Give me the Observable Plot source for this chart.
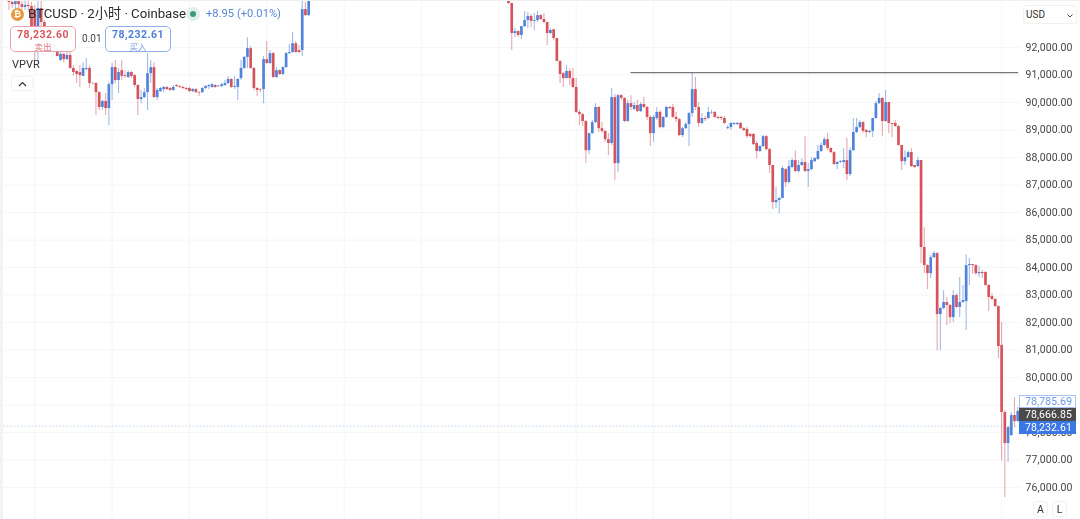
<!DOCTYPE html>
<html><head><meta charset="utf-8">
<script src="https://cdn.jsdelivr.net/npm/d3@7"></script>
<script src="https://cdn.jsdelivr.net/npm/@observablehq/plot@0.6"></script>
<style>
html,body{margin:0;padding:0;background:#fff;overflow:hidden}
#stage{position:relative;width:1080px;height:519px;font-family:Roboto,"Noto Sans CJK SC",sans-serif;color:#333;filter:blur(.35px)}
#chart svg{display:block}
#stage>div.o{position:absolute;white-space:nowrap}
.box{border-radius:5px;background:rgba(255,255,255,.95);text-align:center;box-sizing:border-box;font-family:Roboto,sans-serif;font-weight:700;font-size:10.5px;line-height:13px;padding-top:1px;letter-spacing:.45px}
.box span{display:block;font-family:"Noto Sans CJK SC",sans-serif;font-size:8.5px;line-height:11px;font-weight:400;opacity:.8;letter-spacing:0}
.tag{left:1019px;width:57px;height:13px;box-sizing:border-box;font-family:Roboto,sans-serif;font-size:10.5px;line-height:13px;text-align:right;padding-right:4px;letter-spacing:.1px}
.btn{border:1px solid #f1f1f1;border-radius:3px;text-align:center;box-sizing:border-box;background:#fff}
</style></head><body>
<div id="stage"><div id="chart"></div></div>
<script>
const pairName = "BTCUSD · 2小时 · Coinbase";
const changeText = "+8.95 (+0.01%)";
const sellPrice = "78,232.60", buyPrice = "78,232.61", spreadText = "0.01";
const lastPrices = ["78,785.69", "78,666.85", "78,232.61"];
const priceTicks = d3.range(76000, 93000, 1000);
const dayTicks = [10,34,58,82,106,130,154,178,202,226,250,274,310];
const barNumbers = d3.range(2, 96).concat(d3.range(157, 316));
const resistance = 91090, resistanceFrom = 195, resistanceTo = 315.3;
const lastBuyLevel = 78232.61;

const opens = [
93820,93640,93560,93670,93560,93460,93530,93490,93350,92620,
93420,92910,92250,91960,92110,91890,91530,91750,91560,91710,
91240,91130,91090,90950,91200,91240,90690,90690,90360,89820,
90040,89780,90650,91270,90800,91160,90980,90910,91090,90980,
90620,90110,90180,90360,91050,91270,90180,90400,90470,90550,
90510,90440,90620,90580,90550,90510,90510,90400,90470,90360,
90360,90510,90580,90550,90620,90580,90580,90620,90690,90840,
90550,90550,90870,91240,91640,91960,91240,90510,90470,90470,
91560,91420,91780,90910,91160,91020,91270,91780,91820,92140,
91890,91890,93380,93160,
93670,93600,92510,92580,92440,92760,92980,93130,92950,92980,
93160,93020,92910,92510,92650,92330,91490,91050,90870,91130,
90870,90550,89640,89560,89310,88250,88870,89270,89820,89050,
88950,88650,88510,90180,87780,90250,90150,89310,89960,89750,
89890,89670,89930,89820,89460,88870,89420,89640,89090,89460,
89820,89820,89460,89380,88800,89050,89200,89600,90470,89820,
89240,89420,89420,89620,89640,89460,89460,89420,89050,89090,
89200,89200,89240,89050,89020,88840,88840,88510,88220,88400,
88760,88290,87710,86360,86440,86510,87560,87090,87640,87890,
87490,87710,87820,87490,87560,87850,87930,88220,88440,88650,
88330,88180,87750,87820,87820,87890,87380,88250,88910,89090,
89270,88980,88910,88950,89420,89960,90150,89310,90000,89240,
89240,89130,88440,87850,88000,88180,87710,87670,87890,84730,
84070,83780,84360,84510,82290,82510,82730,82620,82180,82980,
82550,82730,82760,84070,84110,84070,83780,83820,83820,83350,
82950,82840,82580,81170,78730,77600,77890,78620,78400];
const closes = [
93640,93560,93670,93560,93460,93530,93490,92620,92620,93420,
92910,92250,91960,92110,91890,91670,91750,91560,91710,91240,
91090,91020,90980,91240,91240,90690,90680,90360,89820,90040,
89780,90650,91270,90800,91090,90950,90950,91090,90950,90620,
90110,90180,90360,91050,91270,90180,90440,90510,90550,90470,
90440,90550,90580,90550,90510,90470,90400,90470,90360,90340,
90510,90580,90620,90650,90550,90600,90650,90690,90840,90550,
90580,90840,91240,91640,91960,91240,90510,90440,90450,91560,
91420,91780,90910,91160,91020,91270,91780,91820,92140,91820,
91820,93380,93160,93710,
93600,92510,92580,92440,92760,92980,93130,92950,92980,93160,
93020,92910,92510,92620,92330,91490,91020,90870,91130,90870,
90550,89640,89560,89310,88250,88870,89270,89820,89050,88950,
88650,88510,90180,87780,90250,90150,89310,89960,89820,89890,
89670,89930,89820,89460,88870,89460,89640,89090,89460,89820,
89780,89460,89380,88800,89050,89200,89600,90470,89820,89240,
89420,89380,89640,89640,89460,89420,89420,89240,89090,89240,
89240,89240,89050,88980,88760,88760,88470,88220,88400,88760,
88290,87710,86360,86440,86510,87600,87090,87670,87890,87490,
87710,87820,87490,87560,87890,87960,88220,88440,88650,88330,
88180,87750,87820,87850,87890,87380,88250,88910,89090,89270,
88950,88910,88950,89420,89960,90150,89310,90000,89240,89200,
89130,88440,87850,88000,88180,87670,87640,87890,84730,84070,
83780,84360,84510,82290,82510,82730,82620,82180,82980,82550,
82730,82800,84070,84110,84070,83780,83820,83780,83350,82910,
82840,82580,81130,78730,77600,78180,78620,78400,78770];
const highs = [
93890,93890,93890,93890,93710,93710,93710,93640,93530,93710,
93710,92980,92330,92250,92180,92070,91890,91780,92040,91890,
91350,91160,91350,91450,91600,91310,90730,90730,90400,90070,
90330,90730,91420,91530,91240,91530,91160,91160,91130,91020,
90650,90440,90510,91780,91530,91450,90510,90550,90580,90580,
90550,90620,90650,90620,90580,90550,90550,90510,90510,90400,
90550,90620,90650,90690,90650,90620,90690,90800,90950,90870,
90950,90870,91530,91670,92360,92040,91270,90550,90510,91670,
92220,91890,91820,91270,91200,91310,91820,92110,92550,92220,
92070,93710,93640,93890,
93710,93600,92690,92620,92760,93310,93270,93200,93240,93310,
93200,93240,92910,92690,92650,92330,91530,91090,91350,91240,
91240,90870,89710,89600,89350,88870,89350,89960,89860,89270,
88980,88870,90510,90290,90290,90290,90180,90070,90250,90000,
90070,90000,90180,89860,89530,89530,89820,89710,89490,89860,
89860,89930,89640,89420,89090,89270,89640,91090,90910,90000,
89600,89490,89820,89710,89670,89490,89490,89490,89160,89270,
89270,89270,89270,89090,89090,88870,88870,88580,88440,88800,
88800,88330,87710,86910,86550,87670,87600,87890,87960,88250,
87890,87960,88760,87780,88000,88000,88440,88550,88730,88870,
88360,88220,87850,87890,88330,88690,88360,89420,89420,89350,
89310,89020,88980,89420,90040,90330,90180,90440,90000,89240,
89350,89160,88440,88250,88250,88330,87710,88000,87890,85450,
84110,84440,84580,84550,82550,83160,82910,82660,83160,83050,
83640,83350,84470,84330,84110,84110,84040,83890,83860,83380,
83050,82870,82620,82000,78800,78220,78730,79270,78910];
const lows = [
93350,93420,93350,93420,93270,93350,93270,92440,91530,91450,
92250,92180,91890,91820,91820,91670,91490,91450,91530,91200,
90950,90690,90550,90950,91160,90510,90650,89530,89710,89710,
89530,89160,90070,90690,90330,90800,90870,90870,90870,90550,
89530,89960,90150,89710,90690,90150,90070,90360,90360,90440,
90400,90400,90550,90510,90470,90440,90360,90360,90330,90220,
90330,90470,90470,90510,90510,90550,90550,90580,90650,90510,
90470,90070,90800,91200,91240,91200,90440,90220,90360,89960,
91380,91380,90870,90870,90980,90980,91240,91750,91780,91780,
91780,91670,93130,93130,
93560,91890,92360,92360,92290,92730,92690,92730,92620,92910,
92980,92870,92070,92470,92250,91490,90690,90550,90870,90620,
90510,89600,89160,89130,87780,88110,88840,89240,88910,88870,
88550,88070,88440,87160,87450,90070,89270,89270,89710,89710,
89640,89640,89780,89350,88400,88550,89350,89050,89050,89420,
89750,89420,89270,88760,88730,89020,88400,89460,89710,89090,
89200,89310,89380,89560,89420,89380,89350,89200,89020,88980,
89160,89160,89020,88950,88690,88730,88440,87960,88180,88360,
88250,87420,86110,86150,85960,86510,86910,87050,87600,87450,
87450,87670,87450,86910,87530,87820,87890,88180,88400,88250,
88140,87710,87560,87780,87600,87160,87310,88220,88870,89050,
88870,88730,88870,88730,89380,89930,88760,89270,88870,88730,
89090,88400,87530,87710,87960,87640,87600,87640,84140,83780,
83200,83600,84330,80980,80980,82470,81890,81960,82000,82510,
82180,82690,81710,83350,83750,83710,83640,83600,83310,82400,
82800,82550,80690,76980,75640,76910,77860,78180,78370];

const bars = barNumbers.map((n, i) => ({n, open: opens[i], close: closes[i], high: highs[i], low: lows[i]}));
const rises = bars.filter(d => d.close >= d.open), falls = bars.filter(d => d.close < d.open);
const RED = "#d4535c", BLUE = "#5283dc";

const plot = Plot.plot({
  width: 1080, height: 519, marginLeft: 0, marginRight: 60, marginTop: 0, marginBottom: 0,
  style: {background: "transparent", fontFamily: "Roboto,sans-serif"},
  x: {type: "linear", domain: [-0.62, 315.86], axis: null},
  y: {type: "linear", domain: [74840, 93710], axis: null},
  marks: [
    Plot.gridY(priceTicks, {stroke: "#f6f6f6", strokeOpacity: 1}),
    Plot.gridX(dayTicks, {stroke: "#f6f6f6", strokeOpacity: 1}),
    Plot.ruleY([lastBuyLevel], {stroke: "#c3d4f2", strokeDasharray: "1.5,2", strokeWidth: 1}),
    Plot.ruleX(rises, {x: "n", y1: "low", y2: "high", stroke: BLUE, strokeOpacity: .55, strokeWidth: 1.1}),
    Plot.ruleX(falls, {x: "n", y1: "low", y2: "high", stroke: RED, strokeOpacity: .5, strokeWidth: 1.1}),
    Plot.ruleX(rises, {x: "n", y1: "open", y2: "close", stroke: BLUE, strokeWidth: 2.7}),
    Plot.ruleX(falls, {x: "n", y1: "open", y2: "close", stroke: RED, strokeWidth: 2.7}),
    Plot.ruleY([resistance], {x1: resistanceFrom, x2: resistanceTo, stroke: "#777", strokeWidth: 1.2}),
    Plot.axisY(priceTicks, {anchor: "right", tickSize: 0, tickPadding: 5, label: null,
      tickFormat: d3.format(",.2f"), fontSize: 10.5, fill: "#444"})
  ]
});
document.getElementById("chart").appendChild(plot);
plot.querySelectorAll("text").forEach(t => t.setAttribute("letter-spacing", ".1"));

const stage = document.getElementById("stage");
function add(style, html, cls) {
  const d = document.createElement("div");
  d.className = "o " + (cls || "");
  d.style.cssText = style;
  d.innerHTML = html;
  stage.appendChild(d);
}
const chevUp = '<svg width="9" height="6" viewBox="0 0 9 6" style="display:block;margin:4px auto 0"><path d="M1 5L4.5 1.5L8 5" fill="none" stroke="#333" stroke-width="1.2"/></svg>';
const chevDown = '<svg width="6" height="4" viewBox="0 0 6 4" style="position:absolute;right:3px;top:8px"><path d="M.5 .5L3 3L5.5 .5" fill="none" stroke="#444" stroke-width="1"/></svg>';
add("left:0;top:0;width:3px;height:519px;background:#f3f3f3", "");
add("left:0;top:0;width:1080px;height:1px;background:#f0f0f0", "");
add("left:11px;top:8px;width:13px;height:13px;border-radius:50%;background:#e9973a;color:#fff;font-size:9px;line-height:13px;text-align:center;font-weight:700", "₿");
add("left:28px;top:5px;font-size:13.2px;line-height:18px;color:#2b2b2b", pairName);
add("left:186px;top:7px;width:14px;height:14px;border-radius:50%;background:#e2f0ec", "");
add("left:190px;top:11px;width:6px;height:6px;border-radius:50%;background:#3a9a7c", "");
add("left:206px;top:6px;font-size:11.2px;line-height:16px;color:#5b87d8", changeText);
add("left:10px;top:26px;width:66px;height:26px;border:1px solid #e8a4a8;color:#d9575f", sellPrice + "<span>卖出</span>", "box");
add("left:82px;top:33px;font-size:10px;line-height:12px;color:#444", spreadText);
add("left:105px;top:26px;width:66px;height:26px;border:1px solid #8fb0ea;color:#4f7fd8", buyPrice + "<span>买入</span>", "box");
add("left:12px;top:58px;font-size:11px;line-height:14px;color:#333", "VPVR");
add("left:11px;top:76px;width:22px;height:15px", chevUp, "btn");
add("left:1023px;top:5px;width:54px;height:19px;font-size:10px;line-height:18px;text-align:left;padding-left:2px", "USD" + chevDown, "btn");
add("top:395px;border:1px solid #a9c2ee;background:#fff;color:#6e9ae6;line-height:11px;padding-right:3px", lastPrices[0], "tag");
add("top:408px;background:#4a4a4a;color:#fff", lastPrices[1], "tag");
add("top:421px;background:#3b78e6;color:#fff", lastPrices[2], "tag");
add("left:1033px;top:501px;width:15px;height:16px;font-size:10.5px;line-height:15px", "A", "btn");
add("left:1052px;top:501px;width:15px;height:16px;font-size:10.5px;line-height:15px", "L", "btn");
</script>
</body></html>
